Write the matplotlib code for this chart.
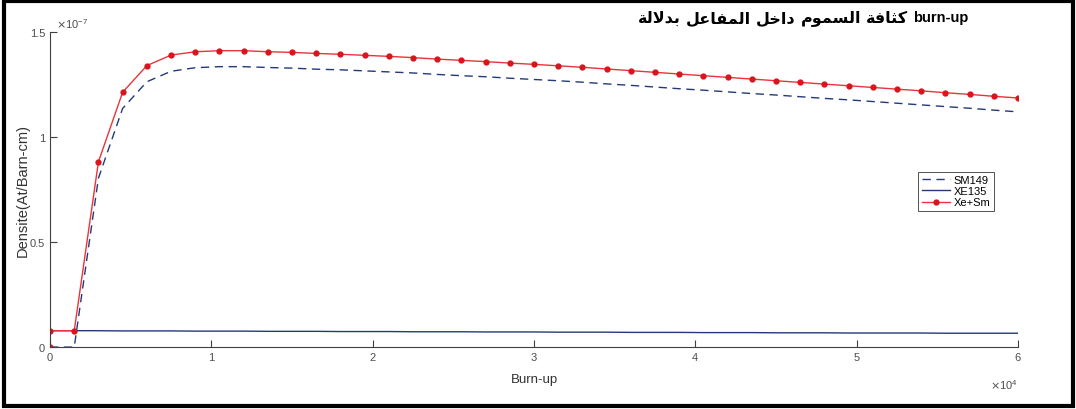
import matplotlib
matplotlib.use('Agg')

import matplotlib.pyplot as plt
from matplotlib.patches import Rectangle
from matplotlib.ticker import FuncFormatter

plt.rcParams['font.family'] = ['Liberation Sans', 'DejaVu Sans']

# burn-up grid (first point repeated: value at start and after xenon build-up)
burnup = [0, 0, 1500, 3000, 4500, 6000, 7500, 9000, 10500, 12000, 13500,
          15000, 16500, 18000, 19500, 21000, 22500, 24000, 25500, 27000, 28500,
          30000, 31500, 33000, 34500, 36000, 37500, 39000, 40500, 42000, 43500,
          45000, 46500, 48000, 49500, 51000, 52500, 54000, 55500, 57000, 58500,
          60000]

# densities in units of 1e-7 at/barn-cm
sm149 = [0, 0, 0, 0.804, 1.136, 1.263, 1.313, 1.330, 1.335, 1.335, 1.331,
         1.328, 1.323, 1.320, 1.315, 1.310, 1.305, 1.298, 1.292, 1.287, 1.280,
         1.274, 1.268, 1.261, 1.253, 1.246, 1.238, 1.230, 1.223, 1.215, 1.207,
         1.200, 1.192, 1.184, 1.177, 1.169, 1.161, 1.153, 1.145, 1.137, 1.128,
         1.120]
xe135 = [0, 0.078, 0.078, 0.078, 0.077, 0.077, 0.077, 0.076, 0.076, 0.076, 0.075,
         0.075, 0.075, 0.074, 0.074, 0.074, 0.073, 0.073, 0.073, 0.072, 0.072,
         0.072, 0.071, 0.071, 0.071, 0.070, 0.070, 0.070, 0.069, 0.069, 0.069,
         0.068, 0.068, 0.068, 0.067, 0.067, 0.067, 0.067, 0.066, 0.066, 0.066,
         0.066]
xe_sm = [0, 0.078, 0.078, 0.882, 1.213, 1.340, 1.390, 1.406, 1.411, 1.411, 1.406,
         1.403, 1.398, 1.394, 1.389, 1.384, 1.378, 1.371, 1.365, 1.359, 1.352,
         1.346, 1.339, 1.332, 1.324, 1.316, 1.308, 1.300, 1.292, 1.284, 1.276,
         1.268, 1.260, 1.252, 1.244, 1.236, 1.228, 1.220, 1.211, 1.203, 1.194,
         1.186]
unit = 1e-7

series_labels = ['SM149', 'XE135', 'Xe+Sm']
x_ticks = [0, 10000, 20000, 30000, 40000, 50000, 60000]
y_ticks = [0, 0.5, 1, 1.5]
title_ar = 'كثافة السموم داخل المفاعل بدلالة'
title_en = 'burn-up'

# minimal arabic shaping (presentation forms) since matplotlib does no shaping
forms = {
    'ا': ('\uFE8D', '\uFE8E', None, None),
    'ب': ('\uFE8F', '\uFE90', '\uFE91', '\uFE92'),
    'ة': ('\uFE93', '\uFE94', None, None),
    'ث': ('\uFE99', '\uFE9A', '\uFE9B', '\uFE9C'),
    'خ': ('\uFEA5', '\uFEA6', '\uFEA7', '\uFEA8'),
    'د': ('\uFEA9', '\uFEAA', None, None),
    'س': ('\uFEB1', '\uFEB2', '\uFEB3', '\uFEB4'),
    'ع': ('\uFEC9', '\uFECA', '\uFECB', '\uFECC'),
    'ف': ('\uFED1', '\uFED2', '\uFED3', '\uFED4'),
    'ك': ('\uFED9', '\uFEDA', '\uFEDB', '\uFEDC'),
    'ل': ('\uFEDD', '\uFEDE', '\uFEDF', '\uFEE0'),
    'م': ('\uFEE1', '\uFEE2', '\uFEE3', '\uFEE4'),
    'و': ('\uFEED', '\uFEEE', None, None),
    'لا': ('\uFEFB', '\uFEFC', None, None),
}


def shape_word(word):
    letters = []
    i = 0
    while i < len(word):
        if word[i:i + 2] == 'لا':
            letters.append('لا')
            i += 2
        else:
            letters.append(word[i])
            i += 1
    out = []
    for k, ch in enumerate(letters):
        iso, fin, ini, med = forms[ch]
        prev_joins = k > 0 and forms[letters[k - 1]][2] is not None
        next_joins = k < len(letters) - 1 and ini is not None
        if prev_joins and next_joins:
            out.append(med)
        elif prev_joins:
            out.append(fin)
        elif next_joins:
            out.append(ini)
        else:
            out.append(iso)
    return ''.join(reversed(out))


fig = plt.figure(figsize=(10.76, 4.10), dpi=100)
ax = fig.add_axes([0.0465, 0.151, 0.8995, 0.7685])

navy = '#223a78'
ax.plot(burnup, [v * unit for v in sm149], '--', color=navy, lw=1.0,
        dashes=(6, 4), label=series_labels[0])
ax.plot(burnup, [v * unit for v in xe135], '-', color=navy, lw=1.0,
        label=series_labels[1])
ax.plot(burnup, [v * unit for v in xe_sm], '-', color='#e8353a', lw=1.0,
        marker='o', markersize=3.5, markerfacecolor='#d9141c',
        markeredgecolor='#d9141c', label=series_labels[2])

ax.set_xlim(0, 60000)
ax.set_ylim(0, 1.5e-7)
ax.set_xticks(x_ticks)
ax.set_yticks([v * unit for v in y_ticks])
ax.xaxis.set_major_formatter(FuncFormatter(lambda v, p: '%g' % (v / 1e4)))
ax.yaxis.set_major_formatter(FuncFormatter(lambda v, p: '%g' % round(v / unit, 3)))

ax.text(0.006, 1.005, r'$\times\mathregular{10^{-7}}$', transform=ax.transAxes,
        fontsize=8, color='#4d4d4d', ha='left', va='bottom')
ax.text(1.0, -0.095, r'$\times\mathregular{10^{4}}$', transform=ax.transAxes,
        fontsize=8, color='#4d4d4d', ha='right', va='top')

ax.spines['top'].set_visible(False)
ax.spines['right'].set_visible(False)
for s in ('left', 'bottom'):
    ax.spines[s].set_color('#404040')
    ax.spines[s].set_linewidth(0.8)
ax.tick_params(direction='in', length=5, width=0.8, colors='#404040',
               labelsize=8, labelcolor='#4d4d4d')

ax.set_xlabel('Burn-up', fontsize=9.5, color='#333333', labelpad=8)
ax.set_ylabel('Densite(At/Barn-cm)', fontsize=10.5, color='#333333', labelpad=0)

# title: arabic run laid out right-to-left (words placed from the left in
# reverse order), then the latin part after it
fig.canvas.draw()
renderer = fig.canvas.get_renderer()
x_px = 638
for word in reversed(title_ar.split(' ')):
    t = fig.text(x_px / fig.bbox.width, 0.955, shape_word(word), fontsize=11.5,
                 fontweight='bold', ha='left', va='center', family=['DejaVu Sans'])
    x_px = t.get_window_extent(renderer=renderer).x1 + 5
fig.text(x_px / fig.bbox.width, 0.955, title_en, fontsize=10.5,
         fontweight='bold', ha='left', va='center')

leg = ax.legend(loc='upper left', bbox_to_anchor=(0.897, 0.556), fontsize=8,
                frameon=True, fancybox=False, handlelength=2.6,
                borderpad=0.3, labelspacing=0.1, handletextpad=0.3,
                borderaxespad=0)
leg.get_frame().set_edgecolor('#262626')
leg.get_frame().set_linewidth(0.7)

fig.patches.append(Rectangle((0.004, 0.007), 0.993, 0.987, transform=fig.transFigure,
                             fill=False, edgecolor='black', linewidth=3))

fig.savefig('out.png', dpi=100)
plt.close(fig)
